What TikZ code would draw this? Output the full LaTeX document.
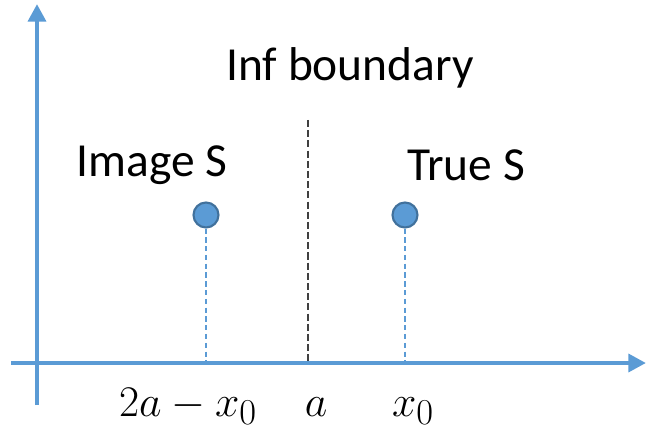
\documentclass[tikz,border=0pt]{standalone}
\usepackage{fontspec}
\setmainfont{Carlito}
\usetikzlibrary{arrows.meta, positioning}
\definecolor{axisblue}{HTML}{5B9BD5}
\definecolor{dotedge}{HTML}{41719C}

\begin{document}
\begin{tikzpicture}[
  x=0.02cm, y=-0.02cm,
  every node/.style={font=\fontsize{27}{32}\selectfont},
  axis/.style={draw=axisblue, line width=2.8pt,
               -{Triangle[length=10pt, width=10pt]}},
  charge/.style={circle, draw=dotedge, fill=axisblue, line width=1.2pt,
                 minimum size=0.5cm, inner sep=0pt},
  drop/.style={draw=axisblue, line width=0.6pt, dash pattern=on 3pt off 2pt},
  bound/.style={draw=black!75, line width=1pt, dash pattern=on 4pt off 1.8pt},
  lbl/.style={font=\fontsize{31}{36}\selectfont, anchor=base, inner sep=0pt}
]
\useasboundingbox (0,0) rectangle (648,435);

%% axis ends
\coordinate (yLow)  at (37,405);
\coordinate (yTop)  at (37,4);
\coordinate (xLow)  at (11,363);
\coordinate (xEnd)  at (646,363);

%% boundary
\coordinate (bTop)  at (308,120);
\coordinate (bFoot) at (308,363);
\node (infLbl) at (350,68) {Inf boundary};

%% sources
\node[charge] (imgS)  at (206,215) {};
\node[charge] (trueS) at (405,215) {};
\node (imgLbl)  at (152,165) {Image S};
\node (trueLbl) at (466,165) {True S};
\coordinate (imgFoot)  at (206,363);
\coordinate (trueFoot) at (405,363);

\draw[drop] (imgS.south) -- (imgFoot);
\draw[drop] (trueS.south) -- (trueFoot);
\draw[bound] (bTop) -- (bFoot);

\draw[axis] (yLow) -- (yTop);
\draw[axis] (xLow) -- (xEnd);

%% ticks
\node[lbl] (mirLbl) at (188,416) {$2a-x_0$};
\node[lbl] (aLbl)   at (316,416) {$a$};
\node[lbl] (xLbl)   at (413,416) {$x_0$};

\end{tikzpicture}
\end{document}
